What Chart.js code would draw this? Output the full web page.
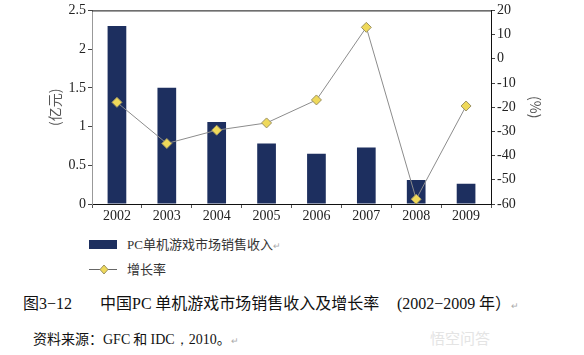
<!DOCTYPE html>
<html><head><meta charset="utf-8">
<script src="https://cdn.jsdelivr.net/npm/chart.js@4.4.1/dist/chart.umd.min.js"></script>
<style>
html,body{margin:0;padding:0;background:#fff;width:584px;height:355px;overflow:hidden;position:relative;}
#wrap{position:absolute;left:0;top:0;width:584px;height:230px;}
.t{position:absolute;white-space:nowrap;font-family:"Noto Sans CJK SC",sans-serif;line-height:1;}
.ser{font-family:"Liberation Serif",serif;}
.pm{color:#aaa;font-size:9px;}
</style></head>
<body>
<div id="wrap"><canvas id="c" width="584" height="230"></canvas></div>

<div class="t" style="left:89px;top:240px;width:28px;height:9px;background:#1d2f5f;"></div>
<div class="t" style="left:127px;top:237px;font-size:13px;color:#333;"><span class="ser">PC</span>单机游戏市场销售收入<span class="pm">↵</span></div>
<canvas id="lg" width="30" height="12" style="position:absolute;left:88px;top:263px;"></canvas>
<div class="t" style="left:127px;top:262px;font-size:13px;color:#333;">增长率</div>

<div class="t" style="left:23px;top:294px;font-size:16px;color:#111;">图<span class="ser">3−12</span></div>
<div class="t" style="left:100px;top:294px;font-size:16px;color:#111;">中国<span class="ser">PC</span> 单机游戏市场销售收入及增长率</div>
<div class="t" style="left:397px;top:294px;font-size:16px;color:#111;"><span class="ser">(2002−2009</span> 年）<span class="pm">↵</span></div>
<div class="t" style="left:33px;top:331px;font-size:14px;color:#111;">资料来源：<span class="ser">GFC</span> 和 <span class="ser">IDC，2010</span>。<span class="pm">↵</span></div>
<div class="t" style="left:430px;top:330px;font-size:15px;color:#e4e4e4;">悟空问答</div>

<script>
const categories = ["2002","2003","2004","2005","2006","2007","2008","2009"];
const revenue = [2.3, 1.5, 1.06, 0.78, 0.65, 0.73, 0.31, 0.26];
const growth = [-18, -35, -29.5, -26.5, -17, 13, -58, -19.5];
const revenueLabel = "PC单机游戏市场销售收入";
const growthLabel = "增长率";

const tickFont = {family: "'Liberation Serif', serif", size: 14};
const titleFont = {family: "'Noto Sans CJK SC', sans-serif", size: 14};

const topBorder = {
  id: 'topBorder',
  afterDraw(chart) {
    const {ctx, chartArea: a} = chart;
    ctx.save();
    ctx.strokeStyle = '#111';
    ctx.lineWidth = 1;
    ctx.beginPath();
    ctx.moveTo(a.left, a.top + 0.5);
    ctx.lineTo(a.right, a.top + 0.5);
    ctx.stroke();
    ctx.restore();
  }
};

new Chart(document.getElementById('c'), {
  data: {
    labels: categories,
    datasets: [
      {type: 'line', label: growthLabel, data: growth, yAxisID: 'y1', order: 0,
       borderColor: '#8c8c8c', borderWidth: 1, tension: 0,
       pointStyle: 'rectRot', pointRadius: 5, pointBackgroundColor: '#efd95a',
       pointBorderColor: '#9b9162', pointBorderWidth: 1},
      {type: 'bar', label: revenueLabel, data: revenue, yAxisID: 'y', order: 1,
       backgroundColor: '#1d2f5f', categoryPercentage: 1, barPercentage: 0.375}
    ]
  },
  options: {
    responsive: false, animation: false,
    layout: {padding: {top: 10, left: 0, right: 0, bottom: 0}},
    plugins: {legend: {display: false}, tooltip: {enabled: false}},
    scales: {
      x: {
        afterFit(s) { s.height = 26; },
        grid: {display: true, drawOnChartArea: false, drawTicks: true, tickLength: 4, color: '#555', offset: true},
        border: {color: '#111', width: 1},
        ticks: {font: tickFont, color: '#222', padding: 0}
      },
      y: {
        position: 'left', min: 0, max: 2.5,
        afterFit(s) { s.width = 92; },
        grid: {drawOnChartArea: false, drawTicks: true, tickLength: 4, color: '#444'},
        border: {color: '#999', width: 1},
        ticks: {stepSize: 0.5, font: tickFont, color: '#222', padding: 2, callback: v => String(v)},
        title: {display: true, text: '(亿元)', font: titleFont, color: '#555', padding: {top: 46, bottom: 0}}
      },
      y1: {
        position: 'right', min: -60, max: 20,
        afterFit(s) { s.width = 93; },
        grid: {drawOnChartArea: false, drawTicks: true, tickLength: 4, color: '#444'},
        border: {color: '#111', width: 1},
        ticks: {stepSize: 10, font: tickFont, color: '#222', padding: 2, callback: v => String(v)},
        title: {display: true, text: '(%)', font: titleFont, color: '#555', padding: {top: 40, bottom: 0}}
      }
    }
  },
  plugins: [topBorder]
});

// legend line marker
const lg = document.getElementById('lg').getContext('2d');
lg.strokeStyle = '#666'; lg.lineWidth = 1;
lg.beginPath(); lg.moveTo(1, 6.5); lg.lineTo(29, 6.5); lg.stroke();
lg.fillStyle = '#efd95a'; lg.strokeStyle = '#9b9162';
lg.beginPath(); lg.moveTo(16, 2); lg.lineTo(20, 6.5); lg.lineTo(16, 11); lg.lineTo(12, 6.5); lg.closePath();
lg.fill(); lg.stroke();
</script>
</body></html>
